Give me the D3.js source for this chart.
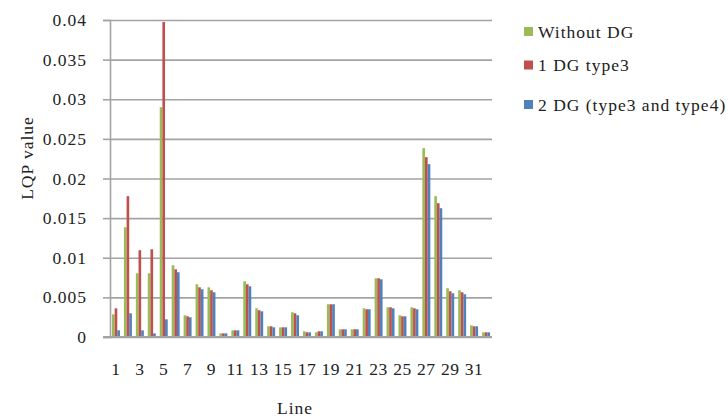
<!DOCTYPE html>
<html>
<head>
<meta charset="utf-8">
<script src="https://cdn.jsdelivr.net/npm/d3@7"></script>
<style>
body{margin:0;background:#fff;}
text{font-family:"Liberation Serif","Times New Roman",serif;fill:#222;}
</style>
</head>
<body>
<script>
let width = 728, height = 419;

// data
let lines = d3.range(1, 33);
let seriesNames = ['Without DG', '1 DG type3', '2 DG (type3 and type4)'];
let seriesColors = ['#9bbb59', '#c0504d', '#4f81bd'];
let withoutDG = [0.00286,0.01385,0.00804,0.00804,0.0290,0.00905,0.00274,0.00665,0.00627,0.00046,
    0.00084,0.00703,0.00362,0.00135,0.00122,0.00312,0.00072,0.00059,0.00413,0.00097,
    0.00097,0.00362,0.00741,0.00375,0.00274,0.00375,0.02383,0.01777,0.00615,0.00589,
    0.00147,0.00059];
let oneDG = [0.00362,0.01777,0.01095,0.01107,0.03975,0.00855,0.00261,0.00627,0.00589,0.00046,
    0.00084,0.00665,0.00337,0.00135,0.00122,0.00299,0.00059,0.00072,0.00413,0.00097,
    0.00097,0.0035,0.00741,0.00375,0.00261,0.00362,0.02269,0.01688,0.00577,0.00564,
    0.00135,0.00059];
let twoDG = [0.00084,0.00299,0.00084,0.00046,0.00223,0.00817,0.00248,0.00602,0.00564,0.00046,
    0.00084,0.0064,0.00324,0.00122,0.00122,0.00274,0.00059,0.00072,0.00413,0.00097,
    0.00097,0.0035,0.00728,0.00362,0.00261,0.0035,0.02181,0.01625,0.00552,0.00539,
    0.00135,0.00059];
let yTicks = [0,0.005,0.01,0.015,0.02,0.025,0.03,0.035,0.04];

let table = lines.map((l,i)=>({line:l, values:[withoutDG[i], oneDG[i], twoDG[i]]}));

let margin = {left:110, right:236, top:20, bottom:82};
let svg = d3.select('body').append('svg')
    .attr('width', width)
    .attr('height', height);

let x = d3.scaleBand().domain(lines).range([margin.left, width - margin.right]);
let y = d3.scaleLinear().domain([0,0.04]).range([height - margin.bottom, margin.top]);
let xInner = d3.scaleBand().domain(d3.range(3))
    .range([x.bandwidth()/6, x.bandwidth()*5/6]);

// gridlines
let grid = svg.append('g')
    .attr('transform', `translate(${margin.left},0)`)
    .call(d3.axisLeft(y).tickValues(yTicks).tickSize(-(width - margin.right - margin.left)).tickFormat(''));
grid.select('.domain').remove();
grid.selectAll('.tick line').attr('stroke', '#a3a3a3').attr('stroke-width', 1.6);

// left axis
let yAxis = svg.append('g')
    .attr('transform', `translate(${margin.left},0)`)
    .call(d3.axisLeft(y).tickValues(yTicks).tickSize(7).tickPadding(16).tickFormat(d=>d3.format('')(+d.toFixed(3))));
yAxis.select('.domain').attr('stroke', '#a3a3a3').attr('stroke-width', 1.6);
yAxis.selectAll('.tick line').attr('stroke', '#a3a3a3').attr('stroke-width', 1.6);
yAxis.selectAll('.tick text').attr('font-size', 17.5).attr('letter-spacing', 1)
    .attr('font-family', '"Liberation Serif",serif').attr('fill', '#222');

// bars
let groups = svg.append('g').selectAll('g')
    .data(table)
    .join('g')
    .attr('transform', d=>`translate(${x(d.line)},0)`);
groups.selectAll('rect')
    .data(d=>d.values)
    .join('rect')
    .attr('x', (d,i)=>xInner(i))
    .attr('width', xInner.bandwidth())
    .attr('y', d=>y(d))
    .attr('height', d=>y(0) - y(d))
    .attr('fill', (d,i)=>seriesColors[i]);

// bottom axis
let xAxis = svg.append('g')
    .attr('transform', `translate(0,${y(0)})`)
    .call(d3.axisBottom(x).tickValues(lines.filter(l=>l%2==1)).tickSize(0).tickPadding(26));
xAxis.select('.domain').attr('stroke', '#a3a3a3').attr('stroke-width', 1.8)
    .attr('d', `M${margin.left-7},0H${width - margin.right}`);
xAxis.selectAll('.tick text').attr('font-size', 17.5).attr('letter-spacing', 0.5)
    .attr('font-family', '"Liberation Serif",serif').attr('fill', '#222');

// axis titles
svg.append('text')
    .attr('x', (margin.left + width - margin.right)/2 - 6)
    .attr('y', 414)
    .attr('text-anchor', 'middle')
    .attr('font-size', 17.5)
    .attr('letter-spacing', 1)
    .text('Line');
svg.append('text')
    .attr('transform', 'translate(33,158) rotate(-90)')
    .attr('text-anchor', 'middle')
    .attr('font-size', 17.5)
    .attr('letter-spacing', 1)
    .text('LQP value');

// legend
let legendY = [31.5, 65, 104.5];
let legend = svg.append('g').selectAll('g')
    .data(seriesNames)
    .join('g')
    .attr('transform', (d,i)=>`translate(524,${legendY[i]})`);
legend.append('rect')
    .attr('x', 0).attr('y', -4.5)
    .attr('width', 9).attr('height', 9)
    .attr('fill', (d,i)=>seriesColors[i]);
legend.append('text')
    .attr('x', 14).attr('y', 6)
    .attr('font-size', 17.5)
    .attr('letter-spacing', 1)
    .text(d=>d);
</script>
</body>
</html>
